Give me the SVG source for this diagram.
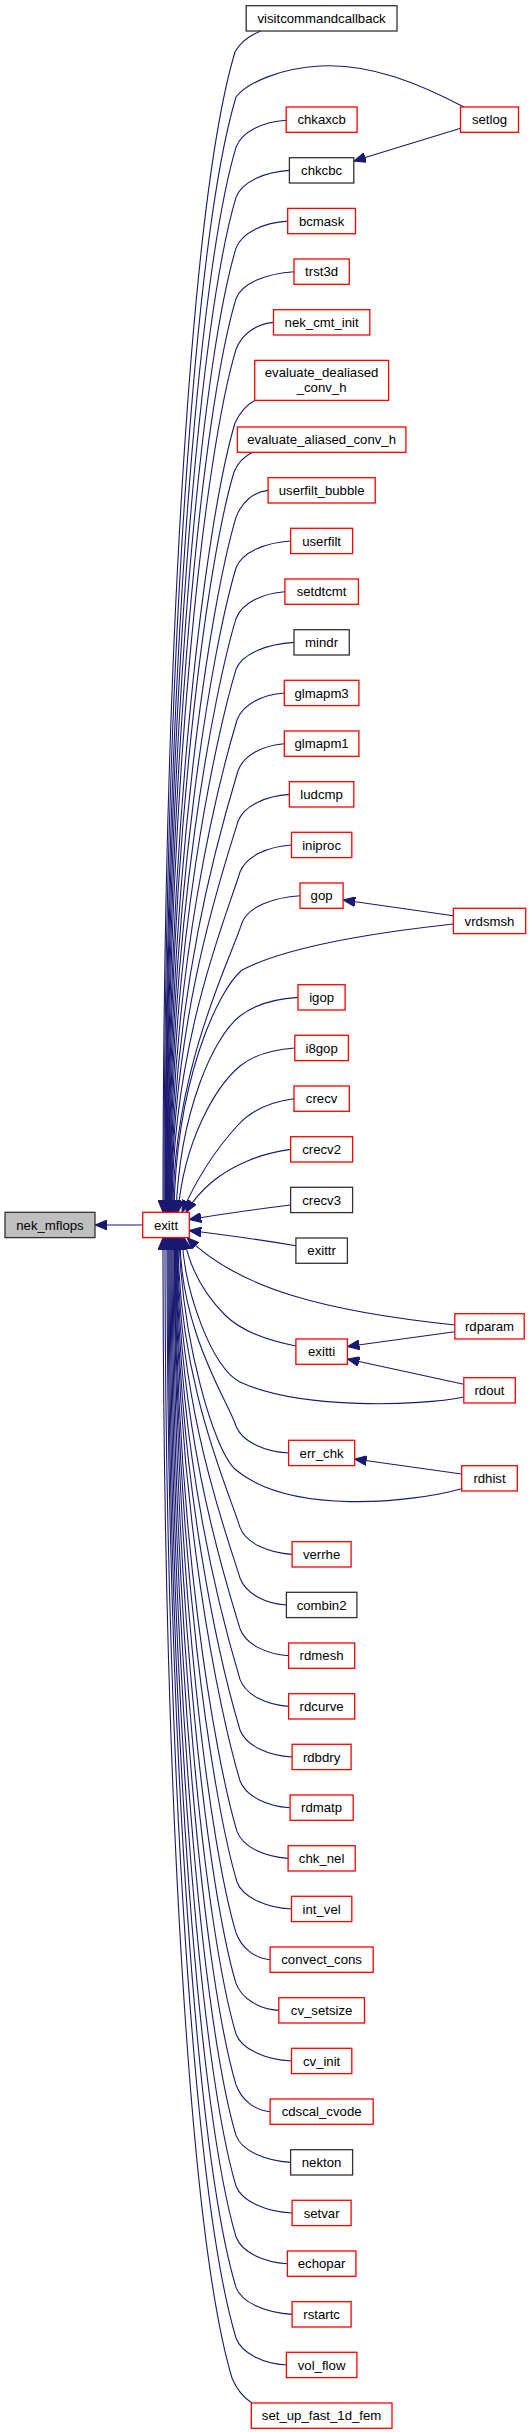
<svg xmlns="http://www.w3.org/2000/svg" width="531" height="2435" viewBox="0 0 531 2435">
<style>
rect{stroke-width:1.3}
.r{fill:#fff;stroke:#ff0000}
.k{fill:#fff;stroke:#333}
.g{fill:#bfbfbf;stroke:#333}
text{font-family:"Liberation Sans",Arial,sans-serif;font-size:13.2px;text-anchor:middle;fill:#000}
#edges path{fill:none;stroke:#191970;stroke-width:1.1;marker-end:url(#ah)}
</style>
<defs>
<marker id="ah" viewBox="0 0 12 10" refX="12" refY="5" markerWidth="12" markerHeight="10" markerUnits="userSpaceOnUse" orient="auto">
<path d="M0,0 L12,5 L0,10 z" fill="#191970" stroke="#191970" stroke-width="1"/>
</marker>
</defs>
<rect width="531" height="2435" fill="#fff"/>
<g id="edges">
<path d="M142.7,1225 L95,1225"/>
<path d="M261,31 C250,35 240,43 235,52 C193.2,191.2 163,632.2 163,1212.3"/>
<path d="M464.4,107.3 C420,84 370,63 320,66 C282,68 248,82 236,97 C195.9,230.8 164,654.6 164,1212.3"/>
<path d="M460.7,128.3 L353.8,161"/>
<path d="M286.2,120.3 C263.6,121.8 242,131.3 236,147.3 C197.7,275.1 165,679.8 165,1212.3"/>
<path d="M289.4,170.4 C265.4,171.9 242,181.4 236,197.4 C199.5,319.2 165.5,704.9 165.5,1212.3"/>
<path d="M287.7,221.1 C264.4,222.6 242,232.1 236,248.1 C201.3,363.8 166,730.2 166,1212.3"/>
<path d="M294,271.7 C267.9,273.2 242,282.7 236,298.7 C203.1,408.3 166.5,755.5 166.5,1212.3"/>
<path d="M273.5,322.4 C256.6,323.9 242,333.4 236,349.4 C204.9,452.9 167,780.9 167,1212.3"/>
<path d="M254.7,400.4 C248,404 240,412 235,423 C206.6,517.7 167.5,817.7 167.5,1212.3"/>
<path d="M252.6,452.3 C245,456 238,462 234,472 C207.4,560.8 168,842.2 168,1212.3"/>
<path d="M268.1,490.4 C253.7,491.9 242,501.4 236,517.4 C211,600.8 168.5,864.9 168.5,1212.3"/>
<path d="M290.6,541 C266,542.5 242,552 236,568 C212.8,645.3 169,890.2 169,1212.3"/>
<path d="M284.9,591.7 C262.9,593.2 242,602.7 236,618.7 C214.6,689.9 169.5,915.5 169.5,1212.3"/>
<path d="M294,642.4 C267.9,643.9 242,653.4 236,669.4 C216.5,734.5 170,940.9 170,1212.3"/>
<path d="M284.3,693 C263,694.5 243,704 237,720 C219.3,779.1 170.5,966.2 170.5,1212.3"/>
<path d="M284.3,743.7 C263.5,745.2 244,754.7 238,770.7 C222.1,823.7 171,991.5 171,1212.3"/>
<path d="M289.4,794.4 C266.3,795.9 244,805.4 238,821.4 C223.9,868.3 171.5,1016.9 171.5,1212.3"/>
<path d="M291.5,845 C268.3,846.5 246,856 240,872 C227.8,912.8 172,1042.2 172,1212.3"/>
<path d="M300,895.7 C273.9,897.2 248,906.7 242,922.7 C231.6,957.5 173,1067.5 173,1212.3"/>
<path d="M453.4,915.7 L343.3,900"/>
<path d="M453.4,924 C380,932 290,945 242,970 C218,990 176,1080 174,1212.3"/>
<path d="M298,997.4 C272,999 254,1005 240,1016 C214,1036 180,1110 176,1212.3"/>
<path d="M294.8,1048 C270,1050 252,1056 240,1066 C216,1086 184,1140 178,1212.3"/>
<path d="M294,1098.7 C268,1102 250,1112 238,1125 C215,1150 196,1180 182,1212.3"/>
<path d="M290.6,1149.4 C262,1153 232,1165 212,1182 C200,1192 192,1202 186,1212.3"/>
<path d="M290.6,1205 C258,1209 222,1214 189.3,1219.5"/>
<path d="M295.9,1245.7 C262,1240 226,1235 189.3,1230.5"/>
<path d="M454.8,1325 C330,1312 240,1290 187,1237.6"/>
<path d="M454.8,1331.7 L347.4,1346.5"/>
<path d="M295.9,1346 C265,1340 240,1330 225,1315 C205,1295 190,1270 184,1237.6"/>
<path d="M463.8,1384.3 L347.4,1359"/>
<path d="M463.8,1397 C420,1406 300,1410 240,1382 C212,1369 184,1290 182,1237.6"/>
<path d="M288.6,1453 C264.9,1451.5 242,1442 236,1426 C229.2,1403.4 180,1331.8 180,1237.6"/>
<path d="M461.7,1474 L354.7,1459"/>
<path d="M461.7,1488.7 C410,1503 290,1515 236,1470 C214,1452 182,1340 179,1237.6"/>
<path d="M292.1,1554.4 C268.7,1552.9 246,1543.4 240,1527.4 C229.6,1492.6 178,1382.5 178,1237.6"/>
<path d="M286.4,1605 C265.5,1603.5 246,1594 240,1578 C227.8,1537.2 177.5,1407.8 177.5,1237.6"/>
<path d="M288.6,1655.7 C266.7,1654.2 246,1644.7 240,1628.7 C225.9,1581.8 177,1433.2 177,1237.6"/>
<path d="M288.6,1706.4 C266.7,1704.9 246,1695.4 240,1679.4 C224.1,1626.4 176.5,1458.5 176.5,1237.6"/>
<path d="M292.1,1757 C268.7,1755.5 246,1746 240,1730 C222.3,1670.9 176,1483.8 176,1237.6"/>
<path d="M290.1,1807.7 C267.6,1806.2 246,1796.7 240,1780.7 C220.4,1715.5 175.5,1509.2 175.5,1237.6"/>
<path d="M288.1,1858.4 C265.1,1856.9 243,1847.4 237,1831.4 C215.6,1760.1 175,1534.5 175,1237.6"/>
<path d="M291.5,1909 C267,1907.5 243,1898 237,1882 C213.8,1804.7 174.5,1559.8 174.5,1237.6"/>
<path d="M270.1,1959.7 C254.8,1958.2 242,1948.7 236,1932.7 C211,1849.3 174,1585.2 174,1237.6"/>
<path d="M278.8,2010.4 C259.5,2008.9 242,1999.4 236,1983.4 C209.2,1893.9 173,1610.5 173,1237.6"/>
<path d="M291.5,2061 C266.5,2059.5 242,2050 236,2034 C207.3,1938.4 172,1635.8 172,1237.6"/>
<path d="M270.1,2111.7 C254.8,2110.2 242,2100.7 236,2084.7 C205.5,1983 171,1661.2 171,1237.6"/>
<path d="M290.6,2162.4 C266,2160.9 242,2151.4 236,2135.4 C203.7,2027.7 170,1686.5 170,1237.6"/>
<path d="M292.1,2213 C266.9,2211.5 242,2202 236,2186 C201.9,2072.2 169,1711.8 169,1237.6"/>
<path d="M287.4,2263.7 C264.3,2262.2 242,2252.7 236,2236.7 C200,2116.8 168,1737.2 168,1237.6"/>
<path d="M292.1,2314.4 C266.9,2312.9 242,2303.4 236,2287.4 C198.2,2161.4 167,1762.5 167,1237.6"/>
<path d="M286.4,2365 C263.8,2363.5 242,2354 236,2338 C196.4,2206 165,1787.8 165,1237.6"/>
<path d="M252,2403 C244,2398 237,2390 232,2378 C191,2241.2 163,1807.8 163,1237.6"/>
</g>
<g id="visitcommandcallback"><rect class="k" x="246.2" y="5.7" width="150.8" height="25.3"/><text x="321.6" y="22.9">visitcommandcallback</text></g>
<g id="setlog"><rect class="r" x="460.5" y="107" width="58" height="25.3"/><text x="489.5" y="124.2">setlog</text></g>
<g id="chkaxcb"><rect class="r" x="286.2" y="107" width="70.9" height="25.3"/><text x="321.6" y="124.2">chkaxcb</text></g>
<g id="chkcbc"><rect class="k" x="289.4" y="157.7" width="64.4" height="25.3"/><text x="321.6" y="174.9">chkcbc</text></g>
<g id="bcmask"><rect class="r" x="287.7" y="208.4" width="67.8" height="25.3"/><text x="321.6" y="225.6">bcmask</text></g>
<g id="trst3d"><rect class="r" x="294" y="259" width="55.3" height="25.3"/><text x="321.6" y="276.2">trst3d</text></g>
<g id="nek_cmt_init"><rect class="r" x="273.5" y="309.7" width="96.3" height="25.3"/><text x="321.6" y="326.9">nek_cmt_init</text></g>
<g id="evaluate_dealiased_conv_h"><rect class="r" x="254.7" y="360.4" width="133.9" height="40"/><text x="321.6" y="377.4">evaluate_dealiased</text><text x="321.6" y="392.4">_conv_h</text></g>
<g id="evaluate_aliased_conv_h"><rect class="r" x="237.4" y="427" width="168.5" height="25.3"/><text x="321.6" y="444.2">evaluate_aliased_conv_h</text></g>
<g id="userfilt_bubble"><rect class="r" x="268.1" y="477.7" width="107.1" height="25.3"/><text x="321.6" y="494.9">userfilt_bubble</text></g>
<g id="userfilt"><rect class="r" x="290.6" y="528.3" width="62" height="25.3"/><text x="321.6" y="545.5">userfilt</text></g>
<g id="setdtcmt"><rect class="r" x="284.9" y="579" width="73.5" height="25.3"/><text x="321.6" y="596.2">setdtcmt</text></g>
<g id="mindr"><rect class="k" x="294" y="629.7" width="55.3" height="25.3"/><text x="321.6" y="646.9">mindr</text></g>
<g id="glmapm3"><rect class="r" x="284.3" y="680.3" width="74.6" height="25.3"/><text x="321.6" y="697.5">glmapm3</text></g>
<g id="glmapm1"><rect class="r" x="284.3" y="731" width="74.6" height="25.3"/><text x="321.6" y="748.2">glmapm1</text></g>
<g id="ludcmp"><rect class="r" x="289.4" y="781.7" width="64.4" height="25.3"/><text x="321.6" y="798.9">ludcmp</text></g>
<g id="iniproc"><rect class="r" x="291.5" y="832.3" width="60.3" height="25.3"/><text x="321.6" y="849.5">iniproc</text></g>
<g id="gop"><rect class="r" x="300" y="883" width="43.1" height="25.3"/><text x="321.6" y="900.2">gop</text></g>
<g id="vrdsmsh"><rect class="r" x="453.4" y="908.3" width="72.3" height="25.3"/><text x="489.5" y="925.5">vrdsmsh</text></g>
<g id="igop"><rect class="r" x="298" y="984.7" width="47.1" height="25.3"/><text x="321.6" y="1001.9">igop</text></g>
<g id="i8gop"><rect class="r" x="294.8" y="1035.3" width="53.6" height="25.3"/><text x="321.6" y="1052.5">i8gop</text></g>
<g id="crecv"><rect class="r" x="294" y="1086" width="55.3" height="25.3"/><text x="321.6" y="1103.2">crecv</text></g>
<g id="crecv2"><rect class="r" x="290.6" y="1136.7" width="62" height="25.3"/><text x="321.6" y="1153.9">crecv2</text></g>
<g id="crecv3"><rect class="k" x="290.6" y="1187.3" width="62" height="25.3"/><text x="321.6" y="1204.5">crecv3</text></g>
<g id="nek_mflops"><rect class="g" x="5" y="1212.3" width="90" height="25.3"/><text x="50" y="1229.5">nek_mflops</text></g>
<g id="exitt"><rect class="r" x="142.7" y="1212.3" width="46.6" height="25.3"/><text x="166" y="1229.5">exitt</text></g>
<g id="exittr"><rect class="k" x="295.9" y="1238" width="51.5" height="25.3"/><text x="321.6" y="1255.2">exittr</text></g>
<g id="rdparam"><rect class="r" x="454.8" y="1313.7" width="69.4" height="25.3"/><text x="489.5" y="1330.9">rdparam</text></g>
<g id="exitti"><rect class="r" x="295.9" y="1339" width="51.5" height="25.3"/><text x="321.6" y="1356.2">exitti</text></g>
<g id="rdout"><rect class="r" x="463.8" y="1377.7" width="51.5" height="25.3"/><text x="489.5" y="1394.9">rdout</text></g>
<g id="err_chk"><rect class="r" x="288.6" y="1440.3" width="66.1" height="25.3"/><text x="321.6" y="1457.5">err_chk</text></g>
<g id="rdhist"><rect class="r" x="461.7" y="1465.7" width="55.6" height="25.3"/><text x="489.5" y="1482.9">rdhist</text></g>
<g id="verrhe"><rect class="r" x="292.1" y="1541.7" width="59" height="25.3"/><text x="321.6" y="1558.9">verrhe</text></g>
<g id="combin2"><rect class="k" x="286.4" y="1592.3" width="70.5" height="25.3"/><text x="321.6" y="1609.5">combin2</text></g>
<g id="rdmesh"><rect class="r" x="288.6" y="1643" width="66.1" height="25.3"/><text x="321.6" y="1660.2">rdmesh</text></g>
<g id="rdcurve"><rect class="r" x="288.6" y="1693.7" width="66.1" height="25.3"/><text x="321.6" y="1710.9">rdcurve</text></g>
<g id="rdbdry"><rect class="r" x="292.1" y="1744.3" width="59" height="25.3"/><text x="321.6" y="1761.5">rdbdry</text></g>
<g id="rdmatp"><rect class="r" x="290.1" y="1795" width="63.1" height="25.3"/><text x="321.6" y="1812.2">rdmatp</text></g>
<g id="chk_nel"><rect class="r" x="288.1" y="1845.7" width="67.1" height="25.3"/><text x="321.6" y="1862.9">chk_nel</text></g>
<g id="int_vel"><rect class="r" x="291.5" y="1896.3" width="60.3" height="25.3"/><text x="321.6" y="1913.5">int_vel</text></g>
<g id="convect_cons"><rect class="r" x="270.1" y="1947" width="103.1" height="25.3"/><text x="321.6" y="1964.2">convect_cons</text></g>
<g id="cv_setsize"><rect class="r" x="278.8" y="1997.7" width="85.7" height="25.3"/><text x="321.6" y="2014.9">cv_setsize</text></g>
<g id="cv_init"><rect class="r" x="291.5" y="2048.3" width="60.3" height="25.3"/><text x="321.6" y="2065.5">cv_init</text></g>
<g id="cdscal_cvode"><rect class="r" x="270.1" y="2099" width="103.1" height="25.3"/><text x="321.6" y="2116.2">cdscal_cvode</text></g>
<g id="nekton"><rect class="k" x="290.6" y="2149.7" width="62" height="25.3"/><text x="321.6" y="2166.9">nekton</text></g>
<g id="setvar"><rect class="r" x="292.1" y="2200.3" width="59" height="25.3"/><text x="321.6" y="2217.5">setvar</text></g>
<g id="echopar"><rect class="r" x="287.4" y="2251" width="68.5" height="25.3"/><text x="321.6" y="2268.2">echopar</text></g>
<g id="rstartc"><rect class="r" x="292.1" y="2301.7" width="59" height="25.3"/><text x="321.6" y="2318.9">rstartc</text></g>
<g id="vol_flow"><rect class="r" x="286.4" y="2352.3" width="70.5" height="25.3"/><text x="321.6" y="2369.5">vol_flow</text></g>
<g id="set_up_fast_1d_fem"><rect class="r" x="251.3" y="2403" width="140.7" height="25.3"/><text x="321.6" y="2420.2">set_up_fast_1d_fem</text></g>
</svg>
